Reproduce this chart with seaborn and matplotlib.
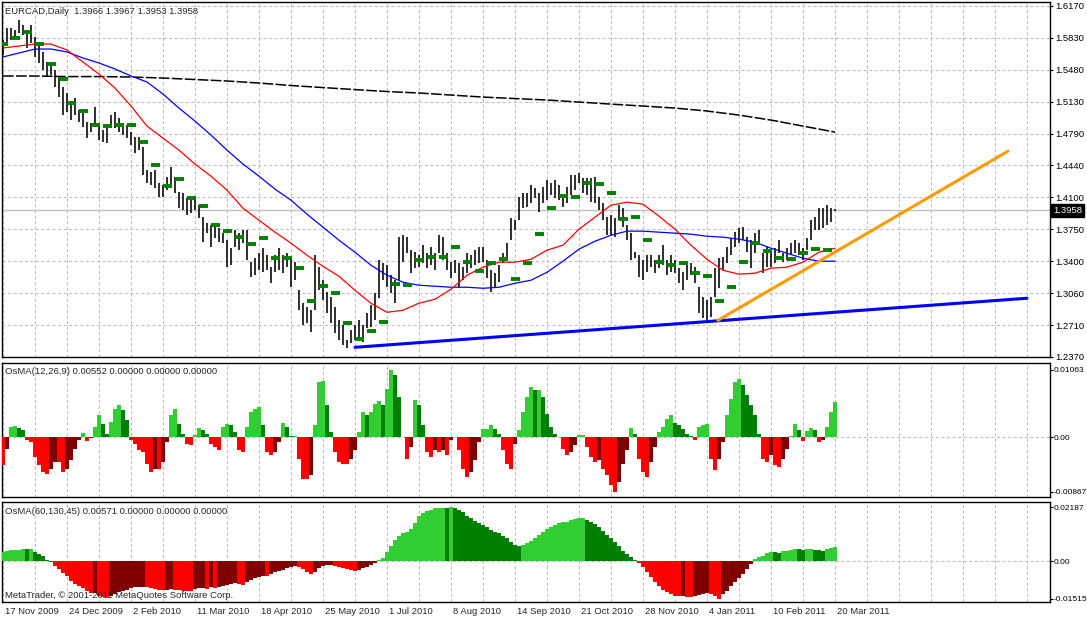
import numpy as np
import pandas as pd
import matplotlib
matplotlib.use("Agg")
import matplotlib.pyplot as plt
import matplotlib.transforms as mtransforms
import seaborn as sns

# ---- price bars, one sample every 2 daily bars (prices in pips) ----
HIGH = [15801, 15931, 15931, 15909, 16017, 15963, 15909, 15963, 15833, 15768,
        15671, 15562, 15552, 15476, 15400, 15292, 15227, 15129, 15172, 15042,
        15010, 14912, 14902, 15075, 14902, 14826, 14858, 14988, 15021, 14956,
        14902, 14880, 14804, 14750, 14750, 14642, 14392, 14371, 14392, 14252,
        14230, 14317, 14425, 14317, 14154, 14143, 14089, 14100, 14089, 14013,
        13883, 13818, 13797, 13797, 13764, 13710, 13634, 13547, 13742, 13710,
        13742, 13742, 13396, 13439, 13493, 13547, 13472, 13342, 13472, 13547,
        13472, 13493, 13439, 13396, 13092, 12952, 12908, 12876, 13472, 13342,
        13201, 13071, 13017, 12908, 12767, 12713, 12551, 12659, 12713, 12767,
        12713, 12843, 12930, 13060, 13417, 13385, 13363, 13255, 13201, 13667,
        13688, 13667, 13526, 13504, 13472, 13580, 13493, 13558, 13493, 13688,
        13667, 13493, 13396, 13417, 13385, 13342, 13493, 13472, 13526, 13558,
        13558, 13417, 13309, 13277, 13363, 13493, 13602, 13872, 13851, 14100,
        14143, 14143, 14230, 14197, 14143, 14208, 14284, 14252, 14284, 14230,
        14122, 14208, 14338, 14338, 14360, 14306, 14306, 14306, 14317, 14100,
        14035, 13883, 13905, 13872, 14013, 13981, 13797, 13710, 13504, 13472,
        13417, 13472, 13472, 13417, 13472, 13580, 13417, 13472, 13417, 13331,
        13287, 13363, 13385, 13342, 13125, 13017, 12984, 13017, 13331, 13439,
        13450, 13558, 13656, 13721, 13764, 13775, 13667, 13634, 13710, 13742,
        13493, 13558, 13493, 13547, 13634, 13493, 13547, 13602, 13634, 13602,
        13547, 13656, 13851, 13883, 13981, 13981, 14013, 13981, 13967]
LOW = [15638, 15747, 15801, 15822, 15877, 15855, 15714, 15768, 15617, 15552,
       15476, 15400, 15422, 15292, 15183, 14988, 15021, 14934, 14988, 14912,
       14858, 14739, 14804, 14858, 14717, 14696, 14685, 14847, 14847, 14804,
       14772, 14739, 14663, 14577, 14609, 14338, 14252, 14230, 14197, 14100,
       14100, 14176, 14208, 14143, 13981, 13959, 13905, 13927, 13959, 13872,
       13612, 13710, 13558, 13656, 13612, 13602, 13342, 13363, 13558, 13526,
       13602, 13417, 13233, 13255, 13309, 13287, 13309, 13168, 13287, 13309,
       13277, 13342, 13125, 13201, 12876, 12713, 12735, 12637, 12876, 13092,
       12984, 12843, 12735, 12627, 12551, 12497, 12464, 12518, 12551, 12572,
       12529, 12681, 12692, 12767, 13006, 13201, 13125, 13060, 12952, 13201,
       13396, 13493, 13277, 13331, 13342, 13385, 13331, 13363, 13309, 13493,
       13417, 13309, 13222, 13277, 13125, 13201, 13277, 13331, 13363, 13385,
       13396, 13222, 13071, 13125, 13179, 13385, 13417, 13634, 13742, 13851,
       13981, 13992, 14035, 14089, 13937, 14035, 14067, 14122, 14089, 14067,
       13992, 14035, 14122, 14176, 14252, 14143, 14122, 14046, 14035, 13959,
       13851, 13688, 13688, 13667, 13851, 13775, 13634, 13417, 13439, 13233,
       13201, 13287, 13342, 13277, 13331, 13363, 13255, 13287, 13277, 13168,
       13092, 13201, 13255, 13168, 12843, 12789, 12767, 12800, 13017, 13114,
       13309, 13385, 13472, 13558, 13602, 13634, 13504, 13331, 13493, 13602,
       13277, 13342, 13342, 13385, 13493, 13396, 13417, 13472, 13493, 13472,
       13417, 13526, 13634, 13742, 13742, 13764, 13797, 13829, 13953]

# moving averages (pips): fast/slow every 8 bars, long every 16 bars
MA_RED = [15714, 15736, 15757, 15757, 15692, 15562, 15432, 15281, 15086, 14869,
          14739, 14609, 14458, 14327, 14176, 13981, 13851, 13721, 13602, 13472,
          13352, 13244, 13092, 12952, 12854, 12876, 12952, 12995, 13103, 13255,
          13342, 13396, 13396, 13428, 13526, 13580, 13753, 13883, 14013, 14046,
          14024, 13894, 13753, 13580, 13428, 13309, 13266, 13277, 13331, 13342,
          13396, 13504, 13547]
MA_BLUE = [15617, 15660, 15703, 15703, 15671, 15606, 15552, 15487, 15411, 15346,
           15216, 15064, 14923, 14772, 14609, 14458, 14327, 14187, 14067, 13916,
           13775, 13634, 13504, 13363, 13255, 13179, 13147, 13136, 13125, 13125,
           13114, 13125, 13168, 13201, 13287, 13407, 13537, 13623, 13688, 13732,
           13732, 13721, 13710, 13699, 13677, 13667, 13645, 13612, 13547, 13493,
           13439, 13407, 13407]
MA_BLACK = [15411, 15411, 15405, 15405, 15400, 15389, 15373, 15357, 15335, 15308,
            15286, 15264, 15243, 15227, 15205, 15183, 15167, 15151, 15129, 15107,
            15086, 15064, 15032, 14988, 14934, 14869, 14804]

# weekly levels (green dashes), week start bars
WEEK_START = [-2, 4, 10, 16, 22, 28, 32, 38] + list(range(44, 411, 6))
WEEK_LEVEL = [15757, 15822, 15887, 15757, 15541, 15378, 15118, 15032,
              14880, 14869, 14880, 14880, 14696, 14447, 14219, 14295, 14089, 14002,
              13797, 13732, 13667, 13591, 13656, 13439, 13439, 13331, 12973, 13136,
              13060, 12735, 12562, 12648, 12746, 13157, 13147, 13417, 13450, 13450,
              13558, 13396, 13298, 13385, 13428, 13212, 13385, 13699, 13981, 14111,
              14100, 14252, 14241, 14143, 13862, 13883, 13634, 13396, 13363, 13385,
              13277, 13244, 12973, 13125, 13396, 13602, 13515, 13439, 13428, 13493,
              13537, 13526]

# trend lines (bar, price)
BLUE_TREND_BAR = [176, 512]
BLUE_TREND_PRICE = [1.2475, 1.3006]
ORANGE_TREND_BAR = [357.5, 502.5]
ORANGE_TREND_PRICE = [1.2767, 1.4598]

# OsMA histograms (units of 1e-5), one sample every 2 bars
OSMA_FAST = [-442, -190, 158, 174, 142, 111, -47, -79, -316, -442,
             -553, -585, -506, -395, -395, -553, -506, -363, -190, -47,
             63, -63, -16, 158, 348, 205, 47, 237, 442, 506,
             427, 269, -47, -111, -205, -237, -427, -553, -506, -506,
             -395, -79, 348, 442, 205, 47, -111, -126, 32, 142,
             111, 47, -111, -158, -205, 158, 205, 190, 79, -205,
             -237, 158, 395, 442, 474, 190, -237, -284, -237, -79,
             221, 158, 16, 16, -348, -664, -664, -600, 190, 869,
             885, 506, 79, -237, -395, -427, -427, -348, -205, 79,
             395, 348, 395, 521, 569, 506, 758, 1063, 980, 632,
             0, -348, -158, 585, 506, 190, -237, -316, -205, -237,
             -205, -284, -47, 0, -205, -506, -632, -553, -363, -79,
             126, 126, 190, 126, 47, -205, -427, -506, -111, 111,
             395, 632, 790, 743, 743, 632, 363, 158, 47, 0,
             -190, -284, -237, -126, 32, 32, -158, -316, -395, -363,
             -506, -600, -758, -867, -711, -427, -205, 142, 47, -348,
             -553, -632, -395, -158, 79, 158, 284, 348, 221, 190,
             126, 47, 16, -47, 158, 190, 205, -348, -521, -348,
             -79, 348, 600, 869, 916, 822, 664, 506, 348, 47,
             -348, -395, -284, -442, -474, -348, -190, 16, 205, 111,
             -63, 95, 142, 111, -79, -47, 158, 395, 552]
OSMA_SLOW = [365, 405, 440, 450, 460, 486, 484, 487, 365, 284,
             203, 41, -41, -203, -324, -486, -608, -810, -932, -1013,
             -1094, -1215, -1296, -1290, -1418, -1430, -1458, -1418, -1337, -1256,
             -1215, -1175, -1094, -1053, -1050, -1045, -1053, -1094, -1134, -1175,
             -1180, -1175, -1134, -1175, -1180, -1185, -1190, -1195, -1134, -1094,
             -1090, -1134, -1053, -1094, -1053, -1013, -972, -932, -891, -932,
             -972, -850, -770, -689, -648, -608, -612, -527, -446, -405,
             -365, -284, -243, -203, -243, -324, -446, -527, -446, -284,
             -203, -162, -160, -203, -243, -284, -304, -365, -405, -365,
             -284, -243, -162, -81, 41, 122, 365, 608, 850, 1013,
             1134, 1175, 1296, 1539, 1823, 1944, 2025, 2066, 2147, 2160,
             2180, 2175, 2187, 2150, 2066, 1985, 1823, 1742, 1620, 1539,
             1458, 1377, 1256, 1175, 1134, 1013, 932, 770, 648, 640,
             648, 729, 810, 932, 1053, 1175, 1296, 1377, 1458, 1539,
             1580, 1590, 1660, 1700, 1742, 1745, 1660, 1580, 1499, 1377,
             1215, 1053, 932, 770, 608, 405, 284, 162, 41, -81,
             -243, -446, -648, -850, -1013, -1175, -1256, -1337, -1418, -1420,
             -1415, -1458, -1465, -1418, -1377, -1337, -1296, -1337, -1418, -1515,
             -1337, -1215, -1013, -850, -689, -527, -324, -122, 81, 162,
             203, 324, 365, 360, 355, 405, 410, 446, 486, 480,
             446, 486, 490, 446, 440, 435, 486, 530, 571]

PRICE_TICKS = ["1.2370", "1.2710", "1.3060", "1.3400", "1.3750", "1.4100",
               "1.4440", "1.4790", "1.5130", "1.5480", "1.5830", "1.6170"]
DATE_LABELS = ["17 Nov 2009", "24 Dec 2009", "2 Feb 2010", "11 Mar 2010",
               "18 Apr 2010", "25 May 2010", "1 Jul 2010", "8 Aug 2010",
               "14 Sep 2010", "21 Oct 2010", "28 Nov 2010", "4 Jan 2011",
               "10 Feb 2011", "20 Mar 2011"]
LAST_PRICE = 1.3958

sns.set_style("white")
plt.rcParams["font.family"] = ["Liberation Sans", "DejaVu Sans"]
FS = 6.8
plt.rcParams["font.size"] = FS

W, H = 1087, 620
fig = plt.figure(figsize=(W / 100, H / 100), dpi=100)
fig.patch.set_facecolor("white")


def panel(top, bottom):
    ax = fig.add_axes([2 / W, 1 - bottom / H, 1048 / W, (bottom - top) / H])
    ax.set_xlim(-0.5, 523.5)
    for s in ax.spines.values():
        s.set_color("black")
        s.set_linewidth(1)
    ax.yaxis.tick_right()
    ax.tick_params(axis="y", direction="out", length=2.5, width=0.8, pad=1,
                   labelsize=FS, colors="black")
    ax.set_xticks(np.arange(0, 524, 32))
    ax.set_xticks(np.arange(0, 524, 16), minor=True)
    ax.tick_params(axis="x", which="both", length=0, labelbottom=False)
    ax.grid(axis="x", which="both", color="#C0C0C0", linestyle=(0, (2.8, 2.2)), lw=0.8)
    ax.set_axisbelow(True)
    return ax


ax1 = panel(2, 357)
ax2 = panel(363, 497)
ax3 = panel(502, 602)

# ---- main price panel ----
bars = np.arange(len(HIGH)) * 2
high = np.array(HIGH) / 10000
low = np.array(LOW) / 10000
ax1.set_ylim(1.237, 1.6212)
ax1.set_yticks(np.linspace(1.237, 1.617, 12))
ax1.set_yticklabels(PRICE_TICKS)
ax1.grid(axis="y", color="#C0C0C0", linestyle=(0, (2.8, 2.2)), lw=0.8)
ax1.axhline(LAST_PRICE, color="#C0C0C0", lw=1, zorder=1)

ax1.vlines(bars, low, high, color="black", lw=1.15, zorder=3)

ma_red = pd.DataFrame({"bar": np.arange(len(MA_RED)) * 8, "price": np.array(MA_RED) / 10000})
ma_blue = pd.DataFrame({"bar": np.arange(len(MA_BLUE)) * 8, "price": np.array(MA_BLUE) / 10000})
ma_black = pd.DataFrame({"bar": np.arange(len(MA_BLACK)) * 16, "price": np.array(MA_BLACK) / 10000})
sns.lineplot(data=ma_black, x="bar", y="price", color="black", lw=1.1,
             linestyle=(0, (7, 1.5)), ax=ax1, zorder=2)
sns.lineplot(data=ma_blue, x="bar", y="price", color="#0000FF", lw=0.9, ax=ax1, zorder=4)
sns.lineplot(data=ma_red, x="bar", y="price", color="#FF0000", lw=0.9, ax=ax1, zorder=4)

ws = np.array(WEEK_START)
ax1.hlines(np.array(WEEK_LEVEL) / 10000, ws, ws + 4.6, color="#008000", lw=2.8,
           capstyle="butt", zorder=5)

ax1.plot(BLUE_TREND_BAR, BLUE_TREND_PRICE, color="#0000FF", lw=2.2, zorder=6)
ax1.plot(ORANGE_TREND_BAR, ORANGE_TREND_PRICE, color="#FF9A00", lw=2.2, zorder=6)

trans1 = mtransforms.blended_transform_factory(ax1.transAxes, ax1.transData)
ax1.text(1 + 3 / 1048, LAST_PRICE, "1.3958", transform=trans1, color="white",
         ha="left", va="center", fontsize=FS,
         bbox=dict(boxstyle="square,pad=0.2", fc="black", ec="black"))
ax1.set_xlabel("")
ax1.set_ylabel("")


def osma_colors(vals):
    cols = []
    for i, v in enumerate(vals):
        prev = vals[i - 1] if i > 0 else v
        if v > 0:
            cols.append("#32CD32" if v >= prev else "#008000")
        else:
            cols.append("#FF0000" if v <= prev else "#800000")
    return cols


# ---- OsMA panels ----
FS_SUB = 6.0
fast = np.array(OSMA_FAST) / 1e5
ax2.bar(bars, fast, width=2, color=osma_colors(OSMA_FAST), linewidth=0, zorder=3)
ax2.axhline(0, color="#C0C0C0", linestyle=(0, (2.8, 2.2)), lw=0.8, zorder=1)
ax2.set_ylim(-0.00949, 0.01171)
ax2.set_yticks([-0.00867, 0, 0.01063])
ax2.set_yticklabels(["-0.00867", "0.00", "0.01063"], fontsize=FS_SUB)

slow = np.array(OSMA_SLOW) / 1e5
ax3.bar(bars, slow, width=2, color=osma_colors(OSMA_SLOW), linewidth=0, zorder=3)
ax3.axhline(0, color="#C0C0C0", linestyle=(0, (2.8, 2.2)), lw=0.8, zorder=1)
ax3.set_ylim(-0.0165, 0.02405)
ax3.set_yticks([-0.01515, 0, 0.02187])
ax3.set_yticklabels(["-0.01515", "0.00", "0.02187"], fontsize=FS_SUB)
for ax in (ax2, ax3):
    ax.tick_params(axis="y", length=2, pad=0.5)

# date axis under the last panel
date_bars = np.arange(len(DATE_LABELS)) * 32
ax3.tick_params(axis="x", which="major", length=7, width=0.8, direction="out", colors="black")
trans3 = mtransforms.blended_transform_factory(ax3.transData, ax3.transAxes)
for b, lab in zip(date_bars, DATE_LABELS):
    ax3.text(b + 0.8, -0.10, lab, transform=trans3, ha="left", va="center",
             fontsize=FS, clip_on=False)

fig.text(5 / W, 1 - 11 / H, "EURCAD,Daily  1.3966 1.3967 1.3953 1.3958",
         ha="left", va="center", fontsize=FS)
fig.text(5 / W, 1 - 371 / H, "OsMA(12,26,9) 0.00552 0.00000 0.00000 0.00000",
         ha="left", va="center", fontsize=FS)
fig.text(5 / W, 1 - 511 / H, "OsMA(60,130,45) 0.00571 0.00000 0.00000 0.00000",
         ha="left", va="center", fontsize=FS)
fig.text(5 / W, 1 - 595 / H, "MetaTrader, \u00a9 2001-2011 MetaQuotes Software Corp.",
         ha="left", va="center", fontsize=FS)

fig.savefig("out.png", dpi=100)
